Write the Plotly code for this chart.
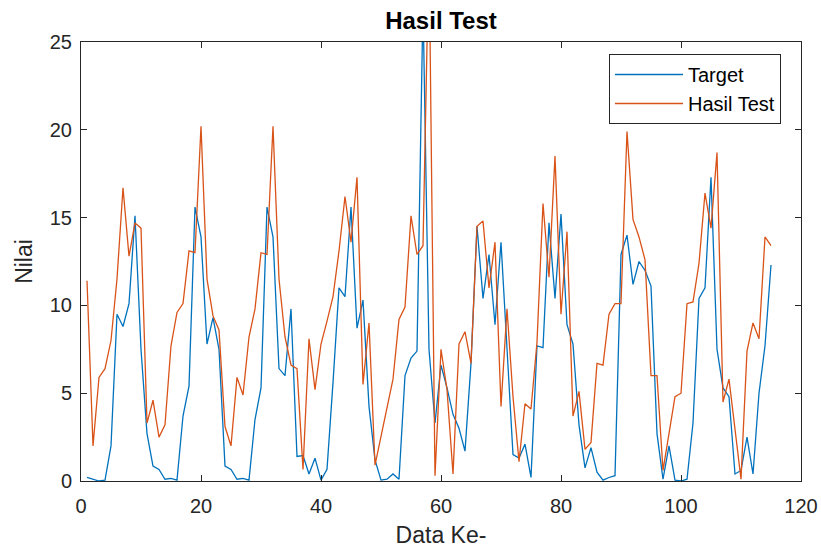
import plotly.graph_objects as go

x_idx = list(range(1, 116))

target = [0.2, 0.1, 0.0, 0.05, 2.0, 9.5, 8.8, 10.1, 15.1, 7.5,
          2.7, 0.85, 0.66, 0.1, 0.15, 0.05, 3.7, 5.4, 15.6, 13.9,
          7.8, 9.3, 7.5, 0.85, 0.66, 0.1, 0.15, 0.05, 3.5, 5.3,
          15.6, 13.9, 6.4, 6.0, 9.8, 1.4, 1.45, 0.4, 1.3, 0.05,
          0.66, 5.6, 11.0, 10.5, 15.6, 8.7, 10.3, 4.25, 1.2, 0.05,
          0.1, 0.4, 0.1, 6.0, 7.0, 7.4, 27.2, 7.5, 3.3, 6.6,
          5.3, 3.8, 3.0, 1.7, 6.7, 14.5, 10.4, 12.9, 8.9, 13.6,
          7.8, 1.5, 1.3, 2.1, 0.2, 7.7, 7.6, 14.7, 10.4, 15.2,
          8.9, 7.8, 3.2, 0.75, 1.9, 0.5, 0.05, 0.2, 0.3, 12.9,
          14.0, 11.2, 12.5, 12.0, 11.1, 2.7, 0.1, 2.0, 0.05, 0.0,
          0.1, 3.3, 10.4, 11.0, 17.3, 7.5, 5.3, 4.8, 0.4, 0.6,
          2.5, 0.4, 5.0, 7.7, 12.3]

hasil_test = [11.4, 2.0, 5.9, 6.4, 8.0, 11.5, 16.7, 12.8, 14.7, 14.4,
              3.3, 4.6, 2.5, 3.2, 7.7, 9.6, 10.1, 13.1, 13.0, 20.2,
              11.5, 9.4, 8.6, 3.1, 2.0, 5.9, 4.9, 8.2, 9.8, 13.0,
              12.9, 20.2, 11.5, 8.2, 6.6, 6.4, 0.66, 8.1, 5.2, 7.8,
              9.1, 10.5, 13.1, 16.2, 13.6, 17.3, 5.5, 9.0, 0.9, 2.6,
              4.1, 5.8, 9.2, 9.9, 15.1, 12.9, 13.4, 30.5, 0.3, 7.5,
              5.2, 0.4, 7.8, 8.5, 6.7, 14.5, 14.8, 11.0, 13.6, 4.25,
              9.8, 4.8, 1.1, 4.4, 4.1, 7.9, 15.8, 11.6, 18.5, 9.5,
              14.2, 3.7, 5.1, 1.8, 2.2, 6.7, 6.6, 9.5, 10.1, 10.1,
              19.9, 14.9, 13.9, 12.6, 6.0, 6.0, 0.6, 2.7, 4.8, 5.0,
              10.1, 10.2, 12.4, 16.4, 14.4, 18.7, 4.5, 5.8, 2.9, 0.1,
              7.4, 9.0, 8.1, 13.9, 13.4]

x_ticks = [0, 20, 40, 60, 80, 100, 120]
y_ticks = [0, 5, 10, 15, 20, 25]

FONT = "Liberation Sans, Arial, Helvetica, sans-serif"
AX = "#262626"

fig = go.Figure()
fig.add_trace(go.Scatter(x=x_idx, y=target, mode="lines", name="Target",
                         line=dict(color="#0072BD", width=1.3)))
fig.add_trace(go.Scatter(x=x_idx, y=hasil_test, mode="lines", name="Hasil Test",
                         line=dict(color="#D95319", width=1.3)))

axis_common = dict(showline=True, linecolor=AX, linewidth=1, mirror="ticks",
                   ticks="inside", ticklen=6, tickcolor=AX, showgrid=False,
                   zeroline=False, automargin=False,
                   tickfont=dict(family=FONT, size=20, color=AX))

fig.update_layout(
    width=821, height=548,
    margin=dict(l=81, r=20, t=42, b=67, autoexpand=False),
    paper_bgcolor="white", plot_bgcolor="white",
    title=dict(text="<b>Hasil Test</b>", x=(81 + 801) / 2 / 821, xanchor="center",
               y=1 - 21 / 548, yanchor="middle", yref="container",
               font=dict(family=FONT, size=24, color="black")),
    xaxis=dict(range=[0, 120], tickvals=x_ticks, ticktext=[str(v) for v in x_ticks],
               ticklabelstandoff=7,
               title=dict(text="Data Ke-", font=dict(family=FONT, size=23, color=AX), standoff=10),
               **axis_common),
    yaxis=dict(range=[0, 25], tickvals=y_ticks, ticktext=[str(v) for v in y_ticks],
               ticklabelstandoff=4,
               title=dict(text="Nilai", font=dict(family=FONT, size=23, color=AX), standoff=10),
               **axis_common),
    legend=dict(x=(781 - 81) / 720, y=(481 - 54) / 439, xanchor="right", yanchor="top",
                bgcolor="white", bordercolor=AX, borderwidth=1,
                font=dict(family=FONT, size=20, color="black"),
                itemwidth=68, tracegroupgap=0),
    showlegend=True,
)

fig.write_html("out.html")
